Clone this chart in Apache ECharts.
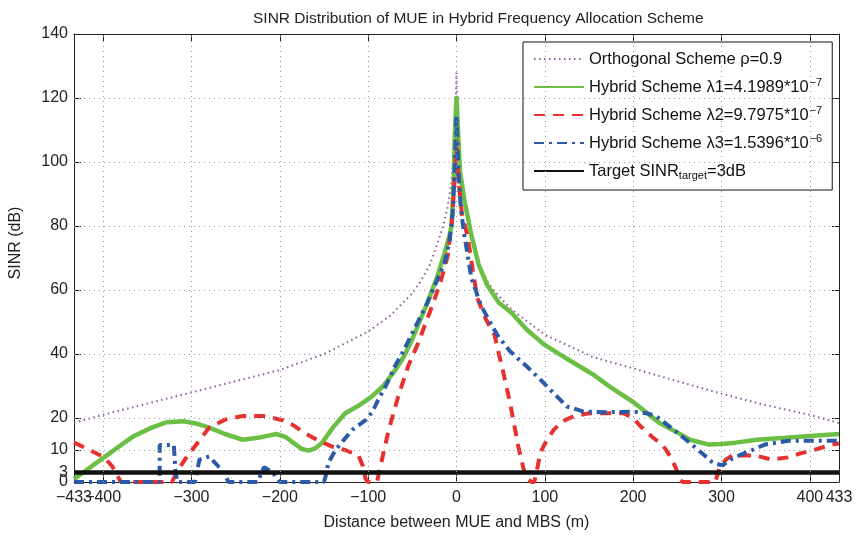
<!DOCTYPE html>
<html><head><meta charset="utf-8">
<script src="https://cdn.jsdelivr.net/npm/echarts@6/dist/echarts.min.js"></script>
<style>html,body{margin:0;padding:0;background:#fff}#c{width:859px;height:536px}</style>
</head><body><div id="c"></div>
<script>
const titleText = 'SINR Distribution of MUE in Hybrid Frequency Allocation Scheme';
const xName = 'Distance between MUE and MBS (m)';
const yName = 'SINR (dB)';
const xTicks = [-433,-400,-300,-200,-100,0,100,200,300,400,433];
const yTicks = [0,3,10,20,40,60,80,100,120,140];
const xLabelsMain = [-433,-300,-200,-100,0,100,200,300,400,433];
const xLabelsExtra = [-400];
const yLabelsMain = [0,10,20,40,60,80,100,120,140];
const yLabelsExtra = [3];
const xGrid = [-400,-300,-200,-100,0,100,200,300,400];
const yGrid = [10,20,40,60,80,100,120];
const seriesKeys = ['orth','h1','h2','h3','target'];
const legendLabels = [
  'Orthogonal Scheme ρ=0.9',
  'Hybrid Scheme λ1=4.1989*10{sup|−7}',
  'Hybrid Scheme λ2=9.7975*10{sup|−7}',
  'Hybrid Scheme λ3=1.5396*10{sup|−6}',
  'Target SINR{sub|target}=3dB'
];
const orthogonal = [[-433,18.5],[-400,21],[-350,24.5],[-300,28],[-250,31.5],[-200,35],[-150,40],[-100,47],[-75,52],[-50,59],[-40,63],[-30,68],[-21,75],[-15,80],[-10,86],[-6,93],[-3,103],[-1,115],[0,128],[1,115],[3,103],[6,93],[10,85],[17,76],[23,69],[30,65],[40,60.5],[62,54],[100,46],[155,39],[200,35.5],[250,31.5],[300,27.6],[350,24],[400,21],[433,18.4]];
const hybrid1 = [[-433,1],[-420,3.5],[-399,7.7],[-380,11.5],[-365,14.4],[-345,17],[-328,18.7],[-309,19],[-295,18.3],[-280,17],[-262,15],[-242,13.2],[-225,13.8],[-204,15],[-193,14],[-185,12.3],[-175,10.3],[-167,9.8],[-160,10.5],[-152,12.3],[-140,17],[-126,21.5],[-110,24],[-96,26.7],[-83,30],[-70,34.7],[-60,39],[-51,44],[-42,50],[-33,56],[-22,64],[-13.5,71.5],[-8,77],[-5.6,80],[-3,95],[-2,108],[0,120.5],[2,108],[4,97],[9,88],[17,77],[25,68],[35,61.4],[48,56],[62,53],[80,47.5],[99,43],[125,38.5],[155,33.5],[175,29.5],[200,25],[230,18.4],[250,15.5],[264,13.2],[286,11.7],[300,11.9],[316,12.3],[340,13.2],[372,13.8],[400,14.4],[433,15]];
const hybrid2 = [[-433,12.3],[-415,10],[-399,7.7],[-390,5],[-384,2],[-380,0],[-322,0],[-317,3],[-305,8],[-291,13],[-280,17],[-262,19.5],[-242,20.6],[-216,20.6],[-197,19.3],[-185,17.8],[-170,15],[-156,12.9],[-140,11],[-126,10],[-111,8.3],[-106,5],[-103,1],[-100,0],[-90,0],[-86,5],[-77,16],[-66,26.7],[-55,36],[-44,43],[-33,51],[-25,57],[-17,63.5],[-10,70.6],[-5,82],[-2,95],[0,107],[2,95],[6,84],[12.4,77],[18,67],[23.6,57.4],[33,51],[43,46],[48,40],[54,33],[60,25.5],[65,18.4],[70,11],[76,4],[80,1],[85,0],[88,0],[92,5],[95,9.2],[102,13],[110,16.3],[120,19],[133,20.6],[150,21.5],[170,21.5],[189,21.5],[200,20],[208,17.5],[222,14],[234,11.3],[242,8],[248,4.6],[253,0.6],[256,0],[293,0],[298,4.6],[305,7],[312,8.3],[338,8.3],[357,7],[375,7.7],[390,9],[402,9.8],[425,11.7],[433,12]];
const hybrid3 = [[-433,0],[-336,0],[-336,11.6],[-320,11.6],[-318,3],[-316,0],[-296,0],[-291,7],[-280,8],[-270,5],[-264,3],[-258,0],[-225,0],[-218,4.6],[-208,3],[-200,0],[-150,0],[-148,2],[-145,6],[-137,10],[-128,13],[-118,16.3],[-103,19.3],[-95,22],[-89,25.5],[-80,30],[-70,36],[-60,41],[-51,46],[-42,51],[-33,56],[-22,63],[-13.5,68.5],[-8,75],[-4,85],[-2,98],[0,114.5],[2,98],[5,85],[9,77],[17,63.5],[28,55],[46,46],[60,41],[80,36],[95,32],[107,28.6],[125,23.6],[144,22],[170,21.8],[200,22],[215,21.5],[226,20.6],[245,16.5],[264,12.3],[280,8.5],[290,6],[301,5.2],[310,7],[320,8.3],[335,10],[349,11.7],[376,12.9],[433,12.9]];
const targetLine = [[-433,3],[433,3]];

const FONT = 'Liberation Sans, Arial, sans-serif';
const minus = v => String(v).replace('-', '\u2212');
const chart = echarts.init(document.getElementById('c'), null, {renderer:'canvas'});
const axisLine = {show:true, onZero:false, lineStyle:{color:'#222', width:1}};
const noLine = {show:false, onZero:false};
const gridStyle = {color:'#999', width:1, type:[1,4]};
const labelBase = {fontFamily:FONT, fontSize:16, color:'#222', hideOverlap:false, showMinLabel:true, showMaxLabel:true};
const mk = (key, data, color, width, type) => ({
  name:key, type:'line', data:data, symbol:'none', clip:false, animation:false, z:3,
  lineStyle:{color:color, width:width, type:type}, itemStyle:{color:color}
});
const gridSeries = {
  name:'grid', type:'line', data:[], symbol:'none', silent:true, z:1, animation:false,
  markLine:{silent:true, symbol:['none','none'], animation:false, label:{show:false},
    lineStyle:gridStyle, emphasis:{disabled:true},
    data:[...xGrid.map(v=>({xAxis:v})), ...yGrid.map(v=>({yAxis:v}))]}
};
chart.setOption({
  backgroundColor:'#fff',
  animation:false,
  title:{text:titleText, left:248, top:6, textStyle:{fontFamily:FONT, fontSize:15.5, fontWeight:'normal', color:'#222'}},
  grid:{left:67, right:20, top:34, bottom:46, containLabel:false},
  legend:{
    orient:'vertical', left:523, top:42, padding:[7,10,9,10], itemGap:8,
    itemWidth:50, itemHeight:20,
    backgroundColor:'#fff', borderColor:'#111', borderWidth:1, borderRadius:0,
    data:seriesKeys,
    itemStyle:{opacity:0},
    formatter: name => legendLabels[seriesKeys.indexOf(name)],
    textStyle:{fontFamily:FONT, fontSize:16.5, color:'#111', lineHeight:20,
      rich:{sup:{fontFamily:FONT, fontSize:11, verticalAlign:'top', lineHeight:20, padding:[0,0,0,1]},
            sub:{fontFamily:FONT, fontSize:11, verticalAlign:'bottom', lineHeight:20}}}
  },
  xAxis:[
    {type:'value', min:-433, max:433, position:'bottom',
     name:xName, nameLocation:'middle', nameGap:33,
     nameTextStyle:{fontFamily:FONT, fontSize:16, color:'#222'},
     axisLine:axisLine,
     axisTick:{show:true, inside:true, length:7, customValues:xTicks, lineStyle:{color:'#222'}},
     axisLabel:Object.assign({show:true, customValues:xLabelsMain, formatter:minus, margin:8}, labelBase),
     splitLine:{show:false}},
    {type:'value', min:-433, max:433, position:'top',
     axisLine:axisLine,
     axisTick:{show:true, inside:true, length:7, customValues:xTicks, lineStyle:{color:'#222'}},
     axisLabel:{show:false}, splitLine:{show:false}},
    {type:'value', min:-433, max:433, position:'bottom', offset:0,
     axisLine:noLine, axisTick:{show:false},
     axisLabel:Object.assign({show:true, customValues:xLabelsExtra, formatter:minus, margin:8}, labelBase),
     splitLine:{show:false}}
  ],
  yAxis:[
    {type:'value', min:0, max:140, position:'left',
     name:yName, nameLocation:'middle', nameGap:50,
     nameTextStyle:{fontFamily:FONT, fontSize:16, color:'#222', padding:[0,0,0,30]},
     axisLine:axisLine,
     axisTick:{show:true, inside:true, length:7, customValues:yTicks, lineStyle:{color:'#222'}},
     axisLabel:Object.assign({show:true, customValues:yLabelsMain, margin:6}, labelBase),
     splitLine:{show:false}},
    {type:'value', min:0, max:140, position:'right',
     axisLine:axisLine,
     axisTick:{show:true, inside:true, length:7, customValues:yTicks, lineStyle:{color:'#222'}},
     axisLabel:{show:false}, splitLine:{show:false}},
    {type:'value', min:0, max:140, position:'left', offset:0,
     axisLine:noLine, axisTick:{show:false},
     axisLabel:Object.assign({show:true, customValues:yLabelsExtra, margin:6}, labelBase),
     splitLine:{show:false}}
  ],
  series:[
    gridSeries,
    mk('orth', orthogonal, '#8e5a9c', 2, [1.5,3.5]),
    mk('h1', hybrid1, '#6cbf45', 4.5, 'solid'),
    mk('h2', hybrid2, '#e8302f', 4, [11,8]),
    mk('h3', hybrid3, '#2b5aa8', 4, [10,5,3,5]),
    mk('target', targetLine, '#111111', 4.5, 'solid')
  ]
});
</script></body></html>
